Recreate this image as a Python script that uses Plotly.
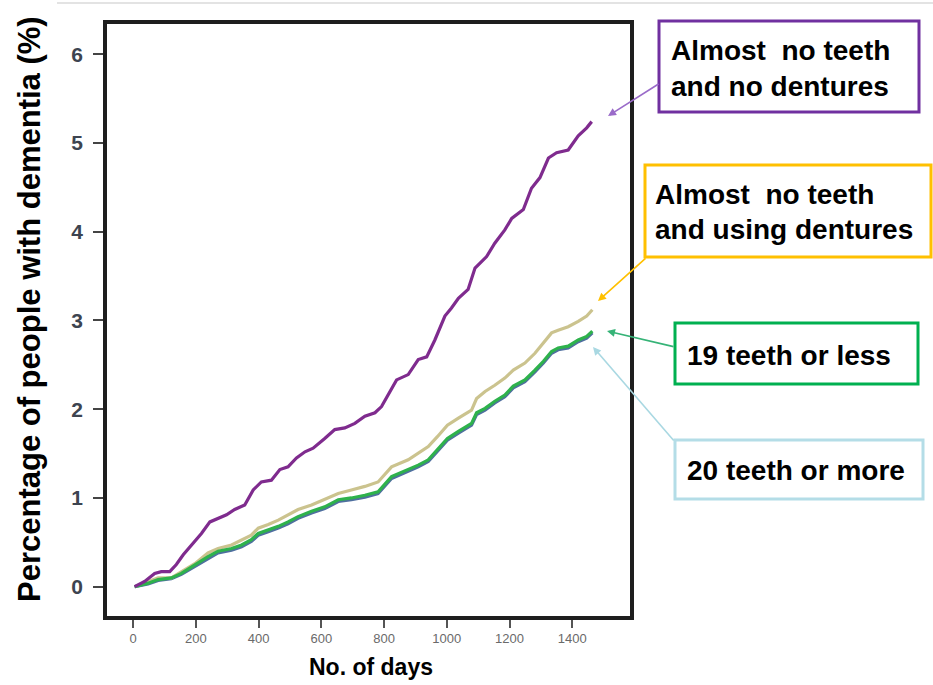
import plotly.graph_objects as go

# ---------------- data ----------------
days_no_teeth_no_dentures = [5, 37, 69, 90, 117, 138, 160, 186, 218, 245, 271, 298, 324, 356, 383, 409, 441, 468,
                             494, 521, 548, 574, 611, 643, 675, 707, 739, 771, 792, 824, 840, 877, 909, 936, 962,
                             994, 1015, 1037, 1068, 1090, 1127, 1153, 1185, 1207, 1244, 1270, 1297, 1324, 1350,
                             1387, 1419, 1446, 1462]
pct_no_teeth_no_dentures = [0.00, 0.06, 0.15, 0.17, 0.17, 0.25, 0.36, 0.47, 0.60, 0.73, 0.77, 0.81, 0.87, 0.92,
                            1.09, 1.18, 1.20, 1.32, 1.35, 1.45, 1.52, 1.56, 1.67, 1.77, 1.79, 1.84, 1.92, 1.96,
                            2.03, 2.22, 2.33, 2.39, 2.56, 2.59, 2.78, 3.05, 3.14, 3.25, 3.35, 3.59, 3.72, 3.87,
                            4.02, 4.15, 4.25, 4.49, 4.61, 4.83, 4.89, 4.92, 5.08, 5.17, 5.24]

days_others = [5, 48, 80, 122, 154, 197, 239, 271, 314, 346, 377, 399, 431, 463, 494, 526, 569, 611, 654, 696,
               739, 781, 824, 877, 909, 941, 970, 1002, 1037, 1079, 1095, 1122, 1153, 1185, 1212, 1249, 1281,
               1308, 1334, 1355, 1387, 1419, 1446, 1464]
pct_no_teeth_dentures = [0.00, 0.06, 0.10, 0.10, 0.17, 0.26, 0.38, 0.43, 0.47, 0.53, 0.58, 0.66, 0.70, 0.75,
                         0.81, 0.87, 0.92, 0.98, 1.05, 1.09, 1.13, 1.18, 1.35, 1.43, 1.50, 1.58, 1.69, 1.82,
                         1.90, 1.99, 2.12, 2.20, 2.27, 2.35, 2.44, 2.52, 2.63, 2.75, 2.86, 2.89, 2.93, 2.99,
                         3.05, 3.12]
pct_19_or_less = [0.00, 0.04, 0.08, 0.10, 0.15, 0.25, 0.34, 0.40, 0.43, 0.47, 0.53, 0.60, 0.64, 0.68, 0.73,
                  0.79, 0.85, 0.90, 0.98, 1.00, 1.03, 1.07, 1.24, 1.32, 1.37, 1.43, 1.54, 1.67, 1.75, 1.84,
                  1.96, 2.01, 2.09, 2.16, 2.26, 2.33, 2.44, 2.54, 2.65, 2.69, 2.71, 2.78, 2.82, 2.88]
pct_20_or_more = [0.00, 0.03, 0.07, 0.09, 0.14, 0.23, 0.32, 0.38, 0.41, 0.45, 0.51, 0.58, 0.62, 0.66, 0.71,
                  0.77, 0.83, 0.88, 0.96, 0.98, 1.01, 1.05, 1.22, 1.30, 1.35, 1.41, 1.52, 1.65, 1.73, 1.82,
                  1.94, 1.99, 2.07, 2.14, 2.24, 2.31, 2.42, 2.52, 2.63, 2.67, 2.69, 2.76, 2.80, 2.86]

x_ticks = [0, 200, 400, 600, 800, 1000, 1200, 1400]
y_ticks = [0, 1, 2, 3, 4, 5, 6]
x_title = "No. of days"
y_title = "Percentage of people with dementia (%)"

# ---------------- layout helpers ----------------
W, H = 933, 685
L, R, T, B = 107, 630, 24, 616
FONT = "Liberation Sans, Arial, sans-serif"


def px(x):
    return (x - L) / (R - L)


def py(y):
    return (B - y) / (B - T)


fig = go.Figure()

fig.add_trace(go.Scatter(x=days_others, y=pct_20_or_more, mode="lines", name="20 teeth or more",
                         line=dict(color="#4f6f9f", width=3.2)))
fig.add_trace(go.Scatter(x=days_others, y=pct_no_teeth_dentures, mode="lines",
                         name="Almost no teeth and using dentures",
                         line=dict(color="#cbc38e", width=3.2)))
fig.add_trace(go.Scatter(x=days_others, y=pct_19_or_less, mode="lines", name="19 teeth or less",
                         line=dict(color="#2eb24c", width=3.2)))
fig.add_trace(go.Scatter(x=days_no_teeth_no_dentures, y=pct_no_teeth_no_dentures, mode="lines",
                         name="Almost no teeth and no dentures",
                         line=dict(color="#7f2b8e", width=3.2)))

fig.update_xaxes(range=[-83, 1584], tickvals=x_ticks, ticks="outside", ticklen=8, tickwidth=1.5,
                 tickcolor="#555555", showline=True, linewidth=3.5, linecolor="#1e1e1e", mirror=True,
                 showgrid=False, zeroline=False,
                 tickfont=dict(family=FONT, size=13, color="#6a6a6a"))
fig.update_yaxes(range=[-0.33, 6.34], tickvals=y_ticks, ticks="outside", ticklen=10, tickwidth=1.5,
                 tickcolor="#444444", showline=True, linewidth=3.5, linecolor="#1e1e1e", mirror=True,
                 showgrid=False, zeroline=False, ticklabelstandoff=6,
                 tickfont=dict(family=FONT, size=21, color="#3d4450", weight="bold"))

shapes = [
    # faint top rule
    dict(type="line", xref="paper", yref="paper", x0=px(57), x1=px(933), y0=py(3), y1=py(3),
         line=dict(color="#e3e3e3", width=2)),
    # label boxes
    dict(type="rect", xref="paper", yref="paper", x0=px(659), x1=px(919), y0=py(112), y1=py(21),
         line=dict(color="#7030a0", width=3)),
    dict(type="rect", xref="paper", yref="paper", x0=px(645), x1=px(931), y0=py(257), y1=py(165),
         line=dict(color="#ffc000", width=3)),
    dict(type="rect", xref="paper", yref="paper", x0=px(675), x1=px(918), y0=py(384), y1=py(323),
         line=dict(color="#00b050", width=3)),
    dict(type="rect", xref="paper", yref="paper", x0=px(675), x1=px(923), y0=py(499), y1=py(440),
         line=dict(color="#b4dde7", width=3)),
]

label_font = dict(family=FONT, size=28, color="#000000", weight="bold")
labels = [
    ("Almost\u00a0 no teeth", 669, 50),
    ("and no dentures", 669, 86),
    ("Almost\u00a0 no teeth", 653, 195),
    ("and using dentures", 653, 229),
    ("19 teeth or less", 685, 356),
    ("20 teeth or more", 685, 470),
]
annotations = []
for text, x0, y0 in labels:
    annotations.append(dict(text=text, xref="paper", yref="paper", x=px(x0), y=py(y0),
                            xanchor="left", yanchor="middle", showarrow=False, font=label_font))

arrows = [
    # (head x, head y, tail x, tail y, colour)
    (608, 116, 660, 83, "#9a6bc9"),
    (598, 301, 647, 257, "#ffc000"),
    (607, 331, 675, 347, "#36b377"),
    (593, 347, 675, 442, "#a9d8e2"),
]
for hx, hy, tx, ty, col in arrows:
    annotations.append(dict(text="", xref="paper", yref="paper", x=px(hx), y=py(hy),
                            ax=tx - hx, ay=ty - hy, showarrow=True, arrowhead=2, arrowsize=1,
                            arrowwidth=1.6, arrowcolor=col, standoff=0))

annotations.append(dict(text=x_title, xref="paper", yref="paper", x=px(371), y=py(667),
                        xanchor="center", yanchor="middle", showarrow=False,
                        font=dict(family=FONT, size=23, color="#000000", weight="bold")))
annotations.append(dict(text=y_title, xref="paper", yref="paper", x=px(29), y=py(309),
                        xanchor="center", yanchor="middle", showarrow=False, textangle=-90,
                        font=dict(family=FONT, size=31, color="#000000", weight="bold")))

fig.update_layout(width=W, height=H, autosize=False,
                  margin=dict(l=L, r=W - R, t=T, b=H - B, pad=0),
                  paper_bgcolor="white", plot_bgcolor="white", showlegend=False,
                  shapes=shapes, annotations=annotations)

fig.write_html("out.html", config={"displayModeBar": False},
               post_script="document.body.style.margin='0px';")
